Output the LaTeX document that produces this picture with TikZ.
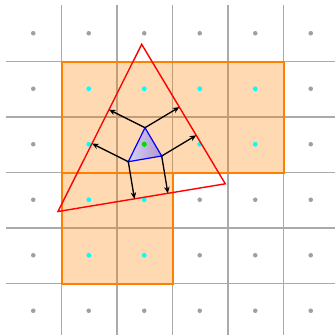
\documentclass[tikz,border=0pt]{standalone}
\usetikzlibrary{calc,arrows.meta}
\definecolor{gridgray}{RGB}{170,170,170}
\definecolor{dotgray}{RGB}{160,160,160}
\definecolor{aqua}{RGB}{0,255,255}
\definecolor{lavl}{RGB}{214,210,242}
\definecolor{lavr}{RGB}{176,150,206}
\begin{document}
\begin{tikzpicture}[x=1pt,y=-1pt,
  gridline/.style={draw=gridgray, line width=1.4pt},
  region/.style={fill=orange, fill opacity=0.3, draw=orange, line width=2pt},
  graydot/.style={fill=dotgray},
  cyandot/.style={fill=aqua},
  greendot/.style={fill={rgb,255:red,0;green,220;blue,0}},
  bigtri/.style={draw=red, line width=1.4pt, line join=miter},
  smalltri/.style={draw=blue, line width=1.2pt, left color=lavl, right color=lavr, shading angle=90},
  arr/.style={draw=black, line width=1.3pt, -{Stealth[length=6.5pt,width=5.5pt]}}]
\useasboundingbox (0,0) rectangle (335,335);
% grid
\foreach \k in {0,...,4} {
  \draw[gridline] ({61.5+55.5*\k},5) -- ({61.5+55.5*\k},335);
  \draw[gridline] (6,{61.5+55.5*\k}) -- (335,{61.5+55.5*\k});
}
% gray dots
\foreach \i/\j in {0/0,1/0,2/0,3/0,4/0,5/0,0/1,5/1,0/2,5/2,0/3,3/3,4/3,5/3,0/4,3/4,4/4,5/4,0/5,1/5,2/5,3/5,4/5,5/5}
  \fill[graydot] ({33.25+55.5*\i},{33.25+55.5*\j}) circle (2.3);
% regions
\path[region] (61.5,61.5) rectangle (283.5,172.5);
\path[region] (61.5,172.5) rectangle (172.5,283.5);
% cyan dots
\foreach \i/\j in {1/1,2/1,3/1,4/1,1/2,3/2,4/2,1/3,2/3,1/4,2/4}
  \fill[cyandot] ({33.25+55.5*\i},{33.25+55.5*\j}) circle (2.4);
% big triangle
\coordinate (A) at (141.7,44.3);
\coordinate (B) at (58,211.5);
\coordinate (C) at (225.3,183.8);
\draw[bigtri] (A) -- (B) -- (C) -- cycle;
% small triangle
\coordinate (P) at (145,127.7);
\coordinate (Q) at (128.3,161.7);
\coordinate (R) at (161.7,156);
\draw[smalltri] (P) -- (Q) -- (R) -- cycle;
\fill[greendot] (144.25,144.25) circle (2.6);
% arrows
\draw[arr] (P) -- ($(A)!(P)!(B)$);
\draw[arr] (P) -- ($(A)!(P)!(C)$);
\draw[arr] (Q) -- ($(A)!(Q)!(B)$);
\draw[arr] (Q) -- ($(B)!(Q)!(C)$);
\draw[arr] (R) -- ($(A)!(R)!(C)$);
\draw[arr] (R) -- ($(B)!(R)!(C)$);
\end{tikzpicture}
\end{document}
